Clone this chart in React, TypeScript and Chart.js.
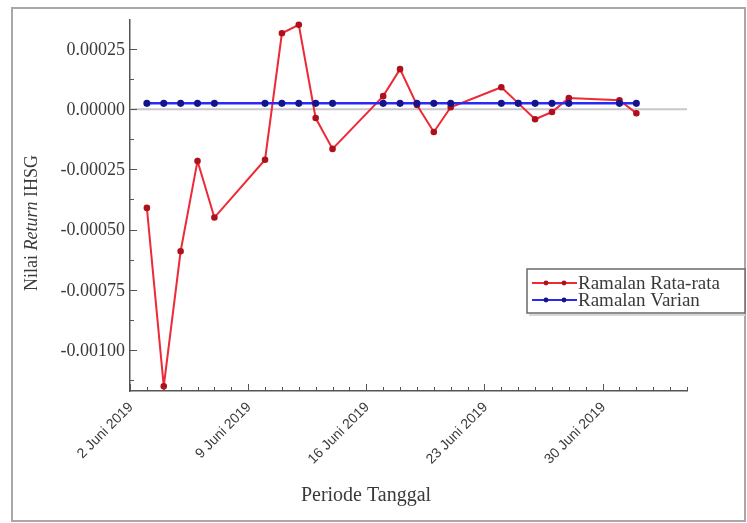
import React, { useEffect, useRef } from "react";
import { Chart, registerables } from "chart.js";

Chart.register(...registerables);

// Trading days (day-of-month counted from 1 Juni 2019; 31 = 1 Juli, 32 = 2 Juli)
const days = [3, 4, 5, 6, 7, 10, 11, 12, 13, 14, 17, 18, 19, 20, 21, 24, 25, 26, 27, 28, 31, 32];

const ramalanRataRata = [
  -0.00041, -0.00115, -0.00059, -0.000215, -0.00045,
  -0.00021, 0.000315, 0.00035, -0.000037, -0.000165,
  0.000054, 0.000166, 0.000017, -0.000095, 0.000008,
  0.000091, 0.000025, -0.000042, -0.000012, 0.000046,
  0.000037, -0.000017,
];

const ramalanVarian = [
  0.000024, 0.000024, 0.000024, 0.000024, 0.000024,
  0.000024, 0.000024, 0.000024, 0.000024, 0.000024,
  0.000024, 0.000024, 0.000024, 0.000024, 0.000024,
  0.000024, 0.000024, 0.000024, 0.000024, 0.000024,
  0.000024, 0.000024,
];

const xTickDays = [2, 9, 16, 23, 30];
const xTickLabels = ["2 Juni 2019", "9 Juni 2019", "16 Juni 2019", "23 Juni 2019", "30 Juni 2019"];
const yTicks = [-0.001, -0.00075, -0.0005, -0.00025, 0, 0.00025];
const yTickLabels = ["-0.00100", "-0.00075", "-0.00050", "-0.00025", "0.00000", "0.00025"];

const X_MIN = 2;
const X_MAX = 35;
const Y_MIN = -0.00117;
const Y_MAX = 0.00037;

const SERIF = "'Liberation Serif', 'DejaVu Serif', serif";
const SANS = "'Liberation Sans', Arial, sans-serif";
const AXIS_COLOR = "#555";
const TEXT_COLOR = "#3a3a3a";

const decorPlugin = {
  id: "decor",
  beforeDatasetsDraw(chart: any) {
    const { ctx, chartArea, scales } = chart;
    const y0 = scales.y.getPixelForValue(0);
    ctx.save();
    ctx.strokeStyle = "#c8c8c8";
    ctx.lineWidth = 2;
    ctx.beginPath();
    ctx.moveTo(chartArea.left, y0);
    ctx.lineTo(chartArea.right, y0);
    ctx.stroke();
    ctx.restore();
  },
  afterDraw(chart: any) {
    const { ctx, chartArea, scales } = chart;
    const xs = scales.x;
    const ys = scales.y;
    const left = chartArea.left;
    const bottom = chartArea.bottom;
    ctx.save();

    // outer frame
    ctx.strokeStyle = "#a8a8a8";
    ctx.lineWidth = 2;
    ctx.strokeRect(12, 8, 733, 513);

    // x ticks (daily minor, weekly major), drawn inward
    ctx.strokeStyle = AXIS_COLOR;
    ctx.lineWidth = 1;
    for (let d = X_MIN; d <= X_MAX; d++) {
      const px = Math.round(xs.getPixelForValue(d)) + 0.5;
      const major = xTickDays.includes(d);
      ctx.beginPath();
      ctx.moveTo(px, bottom);
      ctx.lineTo(px, bottom - (major ? 7 : 4));
      ctx.stroke();
    }

    // y ticks (major + half-step minor), drawn inward
    for (let k = -10; k <= 3; k++) {
      const v = k * 0.000125;
      if (v < Y_MIN || v > Y_MAX) continue;
      const py = Math.round(ys.getPixelForValue(v)) + 0.5;
      const major = k % 2 === 0;
      ctx.beginPath();
      ctx.moveTo(left, py);
      ctx.lineTo(left + (major ? 7 : 4), py);
      ctx.stroke();
    }

    // y tick labels
    ctx.fillStyle = TEXT_COLOR;
    ctx.font = `18px ${SERIF}`;
    ctx.textAlign = "right";
    ctx.textBaseline = "middle";
    yTicks.forEach((v, i) => {
      ctx.fillText(yTickLabels[i], left - 5, ys.getPixelForValue(v) + 1);
    });

    // x tick labels, rotated 45°
    ctx.font = `14px ${SANS}`;
    xTickDays.forEach((d, i) => {
      const px = xs.getPixelForValue(d);
      ctx.save();
      ctx.translate(px + 1, bottom + 14);
      ctx.rotate(-Math.PI / 4);
      ctx.textAlign = "right";
      ctx.textBaseline = "middle";
      ctx.fillText(xTickLabels[i], 0, 0);
      ctx.restore();
    });

    // x axis title
    ctx.font = `20px ${SERIF}`;
    ctx.textAlign = "center";
    ctx.textBaseline = "middle";
    ctx.fillText("Periode Tanggal", 366, 496);

    // y axis title with italic "Return"
    const parts = [
      { t: "Nilai ", f: `18px ${SERIF}` },
      { t: "Return", f: `italic 18px ${SERIF}` },
      { t: " IHSG", f: `18px ${SERIF}` },
    ];
    let total = 0;
    const widths = parts.map((p) => {
      ctx.font = p.f;
      const w = ctx.measureText(p.t).width;
      total += w;
      return w;
    });
    ctx.save();
    ctx.translate(32, 223);
    ctx.rotate(-Math.PI / 2);
    ctx.textAlign = "left";
    ctx.textBaseline = "middle";
    let cx = -total / 2;
    parts.forEach((p, i) => {
      ctx.font = p.f;
      ctx.fillText(p.t, cx, 0);
      cx += widths[i];
    });
    ctx.restore();

    // legend
    const lx = 527;
    const ly = 269;
    const lw = 218;
    const lh = 44;
    ctx.fillStyle = "#fff";
    ctx.fillRect(lx, ly, lw, lh);
    ctx.strokeStyle = "#d6d6d6";
    ctx.lineWidth = 2;
    ctx.beginPath();
    ctx.moveTo(lx + 2, ly + lh + 2);
    ctx.lineTo(lx + lw, ly + lh + 2);
    ctx.stroke();
    ctx.strokeStyle = "#6a6a6a";
    ctx.lineWidth = 1.5;
    ctx.strokeRect(lx, ly, lw, lh);
    chart.data.datasets.forEach((ds: any, i: number) => {
      const yy = ly + 14 + i * 17;
      ctx.strokeStyle = ds.borderColor;
      ctx.lineWidth = 2;
      ctx.beginPath();
      ctx.moveTo(lx + 5, yy);
      ctx.lineTo(lx + 50, yy);
      ctx.stroke();
      ctx.fillStyle = ds.pointBackgroundColor;
      [lx + 19, lx + 37].forEach((dx) => {
        ctx.beginPath();
        ctx.arc(dx, yy, 2.4, 0, Math.PI * 2);
        ctx.fill();
      });
      ctx.fillStyle = TEXT_COLOR;
      ctx.font = `19px ${SERIF}`;
      ctx.textAlign = "left";
      ctx.textBaseline = "middle";
      ctx.fillText(ds.label, lx + 51, yy + 1);
    });

    ctx.restore();
  },
};

export default function App() {
  const canvasRef = useRef<HTMLCanvasElement | null>(null);

  useEffect(() => {
    const canvas = canvasRef.current;
    if (!canvas) return;
    const chart = new Chart(canvas, {
      type: "line",
      data: {
        datasets: [
          {
            label: "Ramalan Rata-rata",
            data: days.map((d, i) => ({ x: d, y: ramalanRataRata[i] })),
            borderColor: "#ee2a36",
            backgroundColor: "#ee2a36",
            pointBackgroundColor: "#b0101c",
            pointBorderColor: "#b0101c",
            pointRadius: 2.3,
            borderWidth: 2,
            tension: 0,
            order: 1,
          },
          {
            label: "Ramalan Varian",
            data: days.map((d, i) => ({ x: d, y: ramalanVarian[i] })),
            borderColor: "#2a2af5",
            backgroundColor: "#2a2af5",
            pointBackgroundColor: "#14148c",
            pointBorderColor: "#14148c",
            pointRadius: 2.3,
            borderWidth: 2.5,
            tension: 0,
            order: 0,
          },
        ],
      },
      options: {
        animation: false,
        responsive: false,
        devicePixelRatio: 1,
        layout: { padding: { left: 130, top: 20, right: 60, bottom: 132 } },
        plugins: {
          legend: { display: false },
          tooltip: { enabled: false },
        },
        scales: {
          x: {
            type: "linear",
            min: X_MIN,
            max: X_MAX,
            grid: { display: false, drawTicks: false },
            ticks: { display: false },
            border: { display: true, color: AXIS_COLOR, width: 1.5 },
          },
          y: {
            type: "linear",
            min: Y_MIN,
            max: Y_MAX,
            grid: { display: false, drawTicks: false },
            ticks: { display: false },
            border: { display: true, color: AXIS_COLOR, width: 1.5 },
          },
        },
      },
      plugins: [decorPlugin],
    });
    return () => chart.destroy();
  }, []);

  return (
    <div style={{ position: "absolute", left: 0, top: 0, width: 747, height: 523, background: "#fff" }}>
      <canvas ref={canvasRef} width={747} height={523} style={{ display: "block" }} />
    </div>
  );
}
